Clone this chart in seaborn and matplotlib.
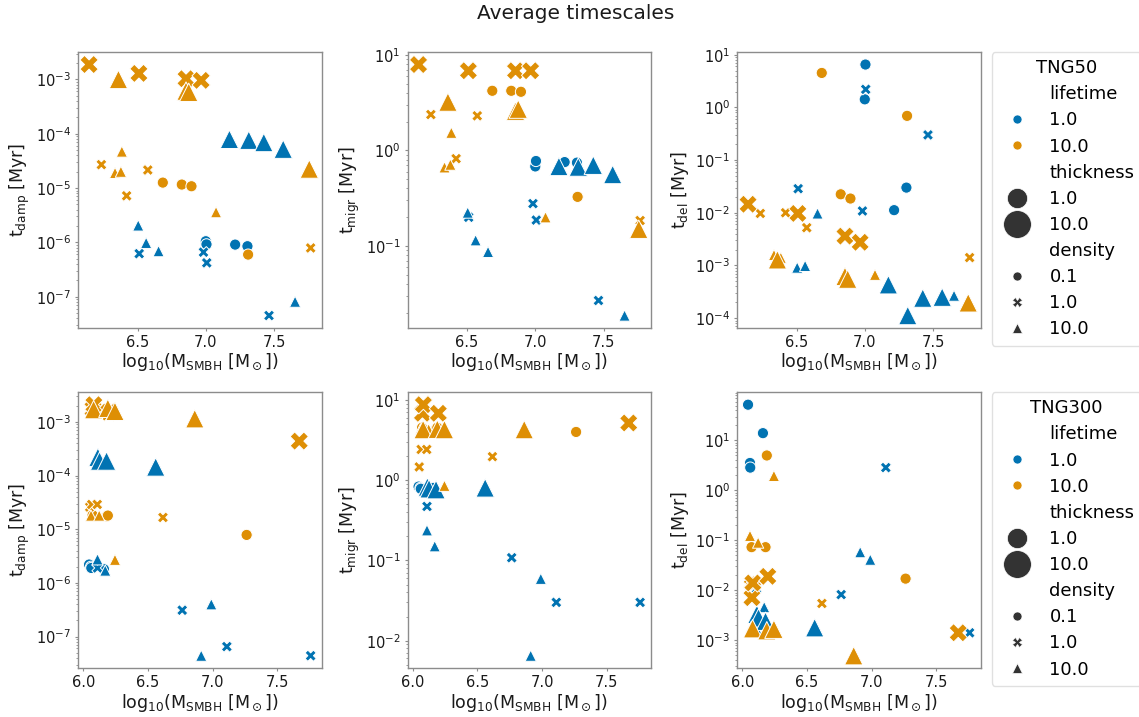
import numpy as np
import pandas as pd
import matplotlib
matplotlib.use("Agg")
import matplotlib.pyplot as plt
from matplotlib.lines import Line2D
import seaborn as sns

# ---------------------------------------------------------------------------
# Per-run averages: disc lifetime, thickness, gas density, log SMBH mass and
# the three timescales (damping, migration, delay) in Myr.
# ---------------------------------------------------------------------------
tng50_lifetime = [1.0] * 16 + [10.0] * 20
tng50_thickness = ([1.0] * 12 + [10.0] * 4 +
                   [1.0] * 12 + [10.0] * 8)
tng50_density = ([0.1] * 4 + [1.0] * 4 + [10.0] * 4 + [10.0] * 4 +
                 [0.1] * 4 + [1.0] * 4 + [10.0] * 4 + [1.0] * 4 + [10.0] * 4)
tng50_logm = [7.000, 7.005, 7.215, 7.305,
              6.512, 6.983, 7.007, 7.463,
              6.505, 6.563, 6.654, 7.654,
              7.173, 7.315, 7.425, 7.567,
              6.685, 6.824, 6.895, 7.310,
              6.235, 6.420, 6.575, 7.768,
              6.335, 6.378, 6.385, 7.075,
              6.145, 6.510, 6.855, 6.966,
              6.360, 6.855, 6.875, 7.758]
tng50_t_damp = [1.05e-6, 9.2e-7, 9.1e-7, 8.5e-7,
                6.2e-7, 6.6e-7, 4.2e-7, 4.5e-8,
                2.05e-6, 9.8e-7, 6.9e-7, 8.1e-8,
                7.9e-5, 7.6e-5, 6.9e-5, 5.2e-5,
                1.26e-5, 1.16e-5, 1.08e-5, 5.96e-7,
                2.7e-5, 7.2e-6, 2.15e-5, 7.9e-7,
                1.9e-5, 2.0e-5, 4.7e-5, 3.6e-6,
                1.88e-3, 1.29e-3, 1.03e-3, 9.6e-4,
                1.0e-3, 6.1e-4, 5.8e-4, 2.24e-5]
tng50_t_migr = [0.68, 0.775, 0.755, 0.745,
                0.200, 0.278, 0.187, 0.027,
                0.224, 0.115, 0.087, 0.0188,
                0.68, 0.67, 0.70, 0.56,
                4.2, 4.2, 4.1, 0.327,
                2.37, 0.82, 2.3, 0.185,
                0.665, 0.71, 1.53, 0.20,
                7.9, 6.8, 6.8, 6.8,
                3.2, 2.57, 2.7, 0.150]
tng50_t_del = [1.42, 6.5, 0.0112, 0.030,
               0.0286, 0.0108, 2.2, 0.30,
               9.1e-4, 9.8e-4, 0.0097, 2.67e-4,
               4.3e-4, 1.12e-4, 2.4e-4, 2.5e-4,
               4.5, 0.0224, 0.0186, 0.69,
               0.0097, 0.0100, 0.0052, 0.00141,
               1.58e-3, 1.2e-3, 1.4e-3, 6.65e-4,
               0.0145, 0.0097, 0.0036, 0.00275,
               1.28e-3, 6.2e-4, 5.5e-4, 1.95e-4]

tng300_lifetime = tng50_lifetime
tng300_thickness = tng50_thickness
tng300_density = tng50_density
tng300_logm = [6.045, 6.060, 6.062, 6.160,
               6.110, 6.765, 7.110, 7.758,
               6.110, 6.170, 6.912, 6.990,
               6.113, 6.126, 6.180, 6.560,
               6.072, 6.180, 6.190, 7.263,
               6.050, 6.065, 6.108, 6.616,
               6.060, 6.070, 6.123, 6.245,
               6.075, 6.082, 6.198, 7.670,
               6.080, 6.190, 6.245, 6.862]
tng300_t_damp = [2.2e-6, 2.0e-6, 1.9e-6, 1.8e-6,
                 1.9e-6, 3.1e-7, 6.5e-8, 4.4e-8,
                 2.75e-6, 1.7e-6, 4.4e-8, 4.0e-7,
                 2.2e-4, 1.87e-4, 1.87e-4, 1.45e-4,
                 1.84e-5, 1.75e-5, 1.8e-5, 7.85e-6,
                 2.6e-5, 2.9e-5, 2.9e-5, 1.66e-5,
                 1.8e-5, 1.7e-3, 1.8e-5, 2.7e-6,
                 1.75e-3, 2.1e-3, 1.53e-3, 4.4e-4,
                 1.7e-3, 1.8e-3, 1.58e-3, 1.15e-3]
tng300_t_migr = [0.83, 0.80, 0.78, 0.80,
                 0.47, 0.108, 0.030, 0.030,
                 0.237, 0.150, 0.0065, 0.059,
                 0.82, 0.78, 0.76, 0.80,
                 4.5, 4.3, 4.5, 3.98,
                 1.46, 2.41, 2.41, 1.96,
                 4.3, 4.3, 4.3, 0.85,
                 6.8, 8.7, 6.8, 5.15,
                 4.26, 4.3, 4.26, 4.26]
tng300_t_del = [52.0, 3.54, 2.86, 14.0,
                0.0107, 0.0082, 2.86, 0.00141,
                0.0017, 0.0046, 0.058, 0.041,
                0.0033, 0.0028, 0.0024, 0.00178,
                0.073, 0.073, 5.0, 0.0171,
                0.013, 0.0151, 0.0151, 0.00545,
                0.123, 0.00186, 0.09, 1.95,
                0.0071, 0.014, 0.019, 0.00141,
                0.0017, 0.00155, 0.00166, 4.9e-4]

lifetime_levels = [1.0, 10.0]
thickness_levels = [1.0, 10.0]
density_levels = [0.1, 1.0, 10.0]

timescales = ["t_damp", "t_migr", "t_del"]
ylabels = [r"t$_{\rm damp}$ [Myr]", r"t$_{\rm migr}$ [Myr]", r"t$_{\rm del}$ [Myr]"]
xlabel = r"log$_{10}$(M$_{\rm SMBH}$ [M$_\odot$])"

# ---------------------------------------------------------------------------
# Styling
# ---------------------------------------------------------------------------
plt.rcParams.update({
    "font.family": ["DejaVu Sans"],
    "axes.edgecolor": "0.55",
    "axes.linewidth": 1.0,
    "xtick.color": "0.55",
    "ytick.color": "0.55",
    "xtick.labelcolor": "0.1",
    "ytick.labelcolor": "0.1",
    "axes.labelcolor": "0.1",
    "xtick.labelsize": 10.5,
    "ytick.labelsize": 10.5,
    "axes.labelsize": 12.5,
    "xtick.major.size": 2.5,
    "ytick.major.size": 2.5,
    "xtick.minor.size": 1.5,
    "ytick.minor.size": 1.5,
    "xtick.major.pad": 2.5,
    "ytick.major.pad": 2.5,
})

cb = sns.color_palette("colorblind")
hue_colors = {1.0: cb[0], 10.0: cb[1]}
size_map = {1.0: 65, 10.0: 175}
marker_map = {0.1: "o", 1.0: "X", 10.0: "^"}

frames = {
    "TNG50": pd.DataFrame({
        "lifetime": tng50_lifetime, "thickness": tng50_thickness,
        "density": tng50_density, "logm": tng50_logm,
        "t_damp": tng50_t_damp, "t_migr": tng50_t_migr, "t_del": tng50_t_del}),
    "TNG300": pd.DataFrame({
        "lifetime": tng300_lifetime, "thickness": tng300_thickness,
        "density": tng300_density, "logm": tng300_logm,
        "t_damp": tng300_t_damp, "t_migr": tng300_t_migr, "t_del": tng300_t_del}),
}

fig, axes = plt.subplots(2, 3, figsize=(11.39, 7.17), dpi=100)
fig.subplots_adjust(left=0.0685, right=0.861, top=0.9275, bottom=0.068,
                    wspace=0.352, hspace=0.232)


def legend_handles():
    blank = Line2D([], [], ls="", marker="")
    handles, labels = [blank], ["lifetime"]
    for lv in lifetime_levels:
        handles.append(Line2D([], [], ls="", marker="o", ms=6.5,
                              mfc=hue_colors[lv], mec="w", mew=0.5))
        labels.append(str(lv))
    handles.append(blank)
    labels.append("thickness")
    for lv, ms in zip(thickness_levels, [14.5, 20.0]):
        handles.append(Line2D([], [], ls="", marker="o", ms=ms,
                              mfc="0.2", mec="w", mew=0.5))
        labels.append(str(lv))
    handles.append(blank)
    labels.append("density")
    for lv in density_levels:
        handles.append(Line2D([], [], ls="", marker=marker_map[lv], ms=6.5,
                              mfc="0.2", mec="w", mew=0.5))
        labels.append(str(lv))
    return handles, labels


for row, (sim, df) in enumerate(frames.items()):
    for col, (ts, ylab) in enumerate(zip(timescales, ylabels)):
        ax = axes[row, col]
        sns.scatterplot(data=df, x="logm", y=ts,
                        hue="lifetime", hue_order=lifetime_levels, palette=hue_colors,
                        size="thickness", size_order=thickness_levels, sizes=size_map,
                        style="density", style_order=density_levels, markers=marker_map,
                        edgecolor="w", linewidth=0.7,
                        legend=False, ax=ax)
        ax.set_yscale("log")
        ax.set_xlabel(xlabel, labelpad=1.0)
        ax.set_ylabel(ylab, labelpad=3.0)
    h, l = legend_handles()
    leg = axes[row, 2].legend(h, l, title=sim, loc="upper left",
                              bbox_to_anchor=(1.045, 1.0), borderaxespad=0,
                              fontsize=13, title_fontsize=13, frameon=True,
                              handletextpad=0.8, labelspacing=0.45)
    leg.get_frame().set_edgecolor("0.85")

fig.suptitle("Average timescales", fontsize=14.5, x=0.505, y=0.995, color="0.1")
fig.savefig("out.png", dpi=100)
